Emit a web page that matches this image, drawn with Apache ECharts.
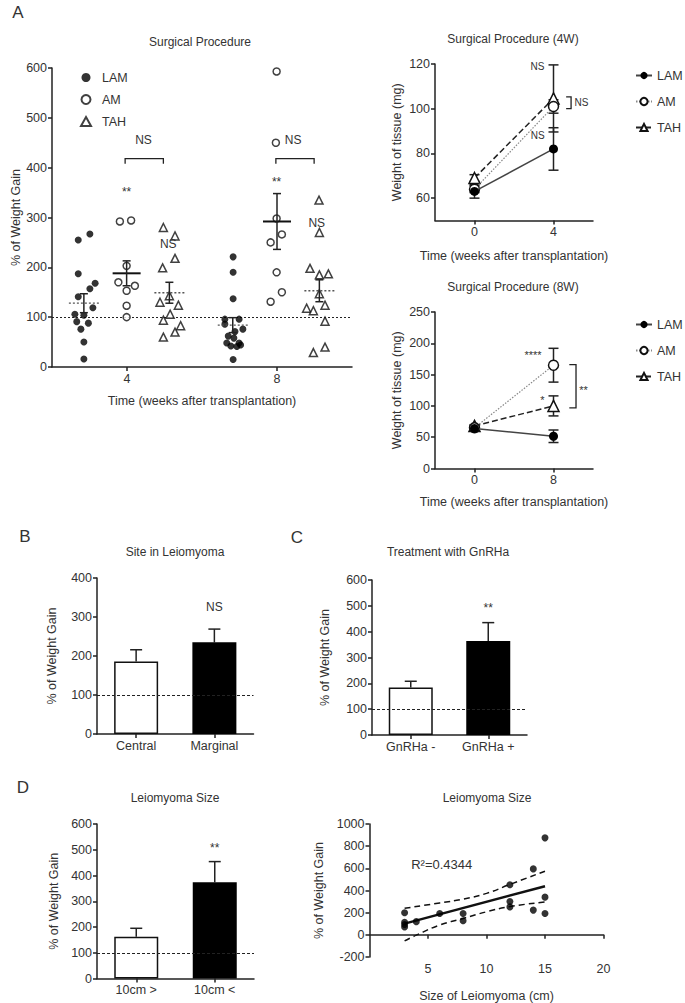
<!DOCTYPE html>
<html><head><meta charset="utf-8">
<script src="https://cdn.jsdelivr.net/npm/echarts@6/dist/echarts.min.js"></script>
<style>html,body{margin:0;padding:0;background:#fff}#c{width:685px;height:1003px}</style>
</head><body><div id="c"></div>
<script>
// ---------------- DATA ----------------
// Panel A: Surgical Procedure (jittered points: [x, % weight gain])
const weekTicks = [4, 8];
const lam4 = [[3.01,267],[2.70,255],[2.70,187],[3.15,168],[3.01,157],[2.70,141],[3.09,119],[2.61,106],[2.85,104],[2.66,91],[2.97,88],[2.77,76],[2.85,50],[2.85,16]];
const am4  = [[3.81,292],[4.11,294],[3.99,203],[3.77,170],[4.21,163],[3.99,153],[3.99,123],[3.99,100]];
const tah4 = [[4.97,280],[5.28,263],[5.28,218],[4.95,199],[4.88,130],[5.13,143],[5.37,124],[5.15,106],[4.97,94],[5.43,83],[5.28,70],[4.97,60]];
const lam8 = [[6.83,221],[6.83,190],[6.83,137],[6.61,96],[6.99,96],[7.09,76],[6.61,86],[6.70,62],[6.88,71],[6.66,48],[6.85,58],[6.99,48],[6.77,42],[6.93,41],[7.03,44],[6.83,15]];
const am8  = [[7.99,593],[7.97,450],[7.99,298],[8.13,266],[7.83,250],[7.99,190],[8.13,150],[7.83,131]];
const tah8 = [[9.12,335],[9.13,270],[8.88,198],[9.13,185],[9.37,187],[9.13,147],[8.79,118],[8.97,113],[9.28,124],[9.28,92],[9.28,40],[8.97,29]];
const lamCenterX = [2.85, 6.82], lamMean = [128, 84],  lamSem = [19, 15];
const amCenterX  = [3.99, 8.00], amMean  = [188, 292], amSem  = [25, 56];
const tahCenterX = [5.13, 9.13], tahMean = [149, 153], tahSem = [21, 22];
const aLabels = [[3.99,352,'**'],[7.99,372,'**'],[5.10,246,'NS'],[9.06,289,'NS'],[4.44,456,'NS'],[8.43,456,'NS']];
const aBrackets = [[[3.95,408],[3.95,418],[4.97,418],[4.97,408]], [[7.97,408],[7.97,418],[8.99,418],[8.99,408]]];

// Panel A right: weight of tissue (mg)
const time4W = [0, 4];
const lam4W = [63, 82],   lam4WErr = [3, 9.5];
const am4W  = [64, 101],  am4WErr  = [1.5, 3];
const tah4W = [69, 104.6],tah4WErr = [1.5, 15];
const labels4W = [[3.19,119,'NS','center'],[3.2,88,'NS','center'],[5.06,102.7,'NS','left']];
const brackets4W = [[[4.64,105.3],[4.89,105.3],[4.89,100],[4.64,100]]];

const time8W = [0, 8];
const lam8W = [64, 51.5], lam8WErr = [3, 10];
const am8W  = [65, 165],  am8WErr  = [2, 27];
const tah8W = [68, 100],  tah8WErr = [2, 16];
const labels8W = [[5.92,182,'****','center'],[6.87,109,'*','center'],[10.6,125,'**','left']];
const brackets8W = [[[9.6,166],[10.28,166],[10.28,97],[9.6,97]]];

// Panel B
const siteCats = ['Central', 'Marginal'];
const siteMean = [186, 235], siteSem = [30, 34];
const siteLabels = [[1, 325, 'NS']];
// Panel C
const gnCats = ['GnRHa -', 'GnRHa +'];
const gnMean = [184, 364], gnSem = [24, 71];
const gnLabels = [[1, 493, '**']];
// Panel D left
const sizeCats = ['10cm >', '10cm <'];
const sizeMean = [162, 374], sizeSem = [33, 80];
const sizeLabels = [[1, 506, '**']];
// Panel D right: size (cm) vs % weight gain
const sizePts = [[3,200],[3,114],[3,93],[3,70],[4,119],[6,192],[8,192],[8,127],[12,452],[12,301],[12,252],[14,595],[14,223],[15,875],[15,340],[15,192]];
const fitLine = [[3,101],[15,439]];
const upperBand = [[3,239],[6,288],[8,322],[10,374],[12,455],[15,574]];
const lowerBand = [[3,-55],[4,-3],[6,88],[8,148],[10,208],[12,255],[15,296]];
const r2Label = [[6.17, 639, 'R\u00b2=0.4344']];

// ---------------- STYLE HELPERS ----------------
const FONT = '"Liberation Sans", Arial, Helvetica, sans-serif';
const TXT = '#333', AX = '#222';

function axis(o) {
  const a = {
    gridIndex: o.g, type: o.type || 'value', name: o.name || '', nameLocation: 'middle', nameGap: o.gap || 30,
    nameTextStyle: {color: TXT, fontSize: 12.5, fontFamily: FONT},
    axisLine: {show: true, onZero: !!o.onZero, lineStyle: {color: AX, width: 1.5}},
    axisTick: {show: true, length: 4, alignWithLabel: true, lineStyle: {color: AX, width: 1.5}},
    axisLabel: {color: TXT, fontSize: 12.5, fontFamily: FONT, margin: 5},
    splitLine: {show: false}
  };
  if (o.data) a.data = o.data; else a.axisLabel.formatter = v => String(v);
  if (o.min !== undefined) a.min = o.min;
  if (o.max !== undefined) a.max = o.max;
  if (o.interval) a.interval = o.interval;
  if (o.custom) { a.axisTick.customValues = o.custom; a.axisLabel.customValues = o.custom; }
  return a;
}

function textSeries(xi, items, size) {
  return {type: 'custom', xAxisIndex: xi, yAxisIndex: xi, silent: true, z: 20, clip: false,
    data: items.map(d => [d[0], d[1]]),
    renderItem: (params, api) => {
      const it = items[params.dataIndex];
      const p = api.coord([api.value(0), api.value(1)]);
      return {type: 'text', x: p[0], y: p[1], style: {text: it[2], fill: TXT, fontSize: size || 12, fontFamily: FONT, align: it[3] || 'center', verticalAlign: 'middle'}};
    }};
}
function polySeries(xi, lines) {
  return {type: 'custom', xAxisIndex: xi, yAxisIndex: xi, silent: true, z: 20, clip: false,
    data: lines.map(l => l[0]),
    renderItem: (params, api) => ({type: 'polyline', shape: {points: lines[params.dataIndex].map(pt => api.coord(pt))},
      style: {stroke: AX, lineWidth: 1.3, fill: null}})};
}
function meanSem(centers, means, sems, solid) {
  return {type: 'custom', xAxisIndex: 0, yAxisIndex: 0, silent: true, z: 15,
    data: centers.map((x, i) => [x, means[i], sems[i]]),
    renderItem: (params, api) => {
      const x = api.value(0), m = api.value(1), s = api.value(2);
      const c = api.coord([x, m]), t = api.coord([x, m + s]), b = api.coord([x, m - s]);
      const hw = solid ? 14 : 15, cw = 4, st = {stroke: AX, lineWidth: 1.5};
      return {type: 'group', children: [
        {type: 'line', shape: {x1: c[0]-hw, y1: c[1], x2: c[0]+hw, y2: c[1]}, style: solid ? {stroke: '#111', lineWidth: 2} : {stroke: '#555', lineWidth: 1.3, lineDash: [2, 2]}},
        {type: 'line', shape: {x1: t[0], y1: t[1], x2: b[0], y2: b[1]}, style: st},
        {type: 'line', shape: {x1: t[0]-cw, y1: t[1], x2: t[0]+cw, y2: t[1]}, style: st},
        {type: 'line', shape: {x1: b[0]-cw, y1: b[1], x2: b[0]+cw, y2: b[1]}, style: st}
      ]};
    }};
}
function errBars(xi, xs, ys, errs, upOnly) {
  return {type: 'custom', xAxisIndex: xi, yAxisIndex: xi, silent: true, z: upOnly ? 1 : 3,
    data: xs.map((x, i) => [x, ys[i], errs[i]]),
    renderItem: (params, api) => {
      const x = api.value(0), m = api.value(1), s = api.value(2);
      const t = api.coord([x, m + s]), b = api.coord([x, upOnly ? m : m - s]);
      const cw = upOnly ? 6 : 5, st = {stroke: AX, lineWidth: 1.5};
      const ch = [
        {type: 'line', shape: {x1: t[0], y1: t[1], x2: b[0], y2: b[1]}, style: st},
        {type: 'line', shape: {x1: t[0]-cw, y1: t[1], x2: t[0]+cw, y2: t[1]}, style: st}];
      if (!upOnly) ch.push({type: 'line', shape: {x1: b[0]-cw, y1: b[1], x2: b[0]+cw, y2: b[1]}, style: st});
      return {type: 'group', children: ch};
    }};
}
const ref100 = (dashed) => ({symbol: 'none', silent: true, label: {show: false}, data: [{yAxis: 100}],
  lineStyle: {color: '#222', width: 1.2, type: dashed ? [3, 2] : [2, 2]}});

const sym = {
  LAM: {symbol: 'circle', itemStyle: {color: '#000'}},
  AM:  {symbol: 'circle', itemStyle: {color: '#fff', borderColor: '#111', borderWidth: 1.5}},
  TAH: {symbol: 'triangle', itemStyle: {color: '#fff', borderColor: '#111', borderWidth: 1.5}}
};
const zOrder = {LAM: 10, AM: 9, TAH: 8};
function scatterA(name, pts, size) {
  return Object.assign({type: 'scatter', name: name + '|a', xAxisIndex: 0, yAxisIndex: 0, symbolSize: size, data: pts, z: 10}, sym[name]);
}
const lineStyles = {
  LAM: {color: '#444', width: 1.5, type: 'solid'},
  AM:  {color: '#888', width: 1.2, type: [1.5, 1.5]},
  TAH: {color: '#222', width: 1.5, type: [6, 3]}
};
function lineW(name, tag, xi, xs, ys, size) {
  return Object.assign({type: 'line', name: name + '|' + tag, xAxisIndex: xi, yAxisIndex: xi, symbolSize: size,
    data: xs.map((x, i) => [x, ys[i]]), lineStyle: lineStyles[name], z: zOrder[name]}, sym[name]);
}
function bars(xi, vals) {
  return {type: 'bar', xAxisIndex: xi, yAxisIndex: xi, barWidth: 44, z: 2,
    data: vals.map((v, i) => ({value: v, itemStyle: i === 0 ? {color: '#fff', borderColor: '#111', borderWidth: 1.5} : {color: '#000'}})),
    markLine: ref100(true)};
}
const legendBase = (names, left, top, w, gap, textPad) => ({
  data: names, left: left, top: top, orient: 'vertical', itemWidth: w, itemHeight: 9, itemGap: gap, selectedMode: false, padding: 0,
  formatter: n => n.split('|')[0], textStyle: {color: TXT, fontSize: 12.5, fontFamily: FONT, padding: [0, 0, 0, textPad || 0]}
});
const txt = (t, x, y, size) => ({type: 'text', x: x, y: y, silent: true,
  style: {text: t, fill: TXT, fontSize: size || 12, fontFamily: FONT, align: 'center', verticalAlign: 'middle'}});

// ---------------- OPTION ----------------
const option = {
  backgroundColor: '#fff',
  animation: false,
  grid: [
    {left: 52, top: 68, width: 300, height: 299},
    {left: 435, top: 64, width: 158, height: 156.5},
    {left: 435, top: 312, width: 158, height: 156.5},
    {left: 97, top: 578, width: 156.5, height: 156},
    {left: 372, top: 580, width: 155, height: 155},
    {left: 97, top: 824, width: 157, height: 154.5},
    {left: 369.5, top: 824, width: 234, height: 154.5}
  ],
  xAxis: [
    axis({g: 0, min: 2, max: 10, custom: weekTicks, name: 'Time (weeks after transplantation)', gap: 27}),
    axis({g: 1, min: -2, max: 6, custom: time4W, name: 'Time (weeks after transplantation)', gap: 29}),
    axis({g: 2, min: -4, max: 12, custom: time8W, name: 'Time (weeks after transplantation)', gap: 27}),
    axis({g: 3, type: 'category', data: siteCats}),
    axis({g: 4, type: 'category', data: gnCats}),
    axis({g: 5, type: 'category', data: sizeCats}),
    axis({g: 6, min: 0, max: 20, interval: 5, custom: [5, 10, 15, 20], onZero: true, name: 'Size of Leiomyoma (cm)', gap: 32})
  ],
  yAxis: [
    axis({g: 0, min: 0, max: 600, interval: 100, name: '% of Weight Gain', gap: 30}),
    axis({g: 1, min: 50, max: 120, custom: [60, 80, 100, 120], name: 'Weight of tissue (mg)', gap: 32}),
    axis({g: 2, min: 0, max: 250, interval: 50, name: 'Weight of tissue (mg)', gap: 32}),
    axis({g: 3, min: 0, max: 400, interval: 100, name: '% of Weight Gain', gap: 39}),
    axis({g: 4, min: 0, max: 600, interval: 100, name: '% of Weight Gain', gap: 41}),
    axis({g: 5, min: 0, max: 600, interval: 100, name: '% of Weight Gain', gap: 37}),
    axis({g: 6, min: -200, max: 1000, interval: 200, name: '% of Weight Gain', gap: 44})
  ],
  legend: [
    legendBase(['LAM|a', 'AM|a', 'TAH|a'], 80, 71, 10, 9, 6),
    legendBase(['LAM|4', 'AM|4', 'TAH|4'], 635, 69, 16, 13, 0),
    legendBase(['LAM|8', 'AM|8', 'TAH|8'], 635, 318, 16, 13, 0)
  ],
  graphic: [
    txt('A', 18, 12, 17), txt('B', 25, 536, 17), txt('C', 297, 537, 17), txt('D', 23, 787, 17),
    txt('Surgical Procedure', 200, 42), txt('Surgical Procedure (4W)', 513, 39), txt('Surgical Procedure (8W)', 513, 287),
    txt('Site in Leiomyoma', 175, 552), txt('Treatment with GnRHa', 448, 552),
    txt('Leiomyoma Size', 175, 798), txt('Leiomyoma Size', 487, 798)
  ],
  series: [
    // Panel A
    Object.assign(scatterA('LAM', lam4.concat(lam8), 7), {markLine: ref100(false)}),
    scatterA('AM', am4.concat(am8), 7),
    scatterA('TAH', tah4.concat(tah8), 8),
    meanSem(lamCenterX, lamMean, lamSem, false),
    meanSem(amCenterX, amMean, amSem, true),
    meanSem(tahCenterX, tahMean, tahSem, false),
    textSeries(0, aLabels, 12),
    polySeries(0, aBrackets),
    // 4W
    errBars(1, time4W, lam4W, lam4WErr), errBars(1, time4W, am4W, am4WErr), errBars(1, time4W, tah4W, tah4WErr),
    lineW('LAM', '4', 1, time4W, lam4W, 9), lineW('AM', '4', 1, time4W, am4W, 10), lineW('TAH', '4', 1, time4W, tah4W, 11),
    textSeries(1, labels4W, 10), polySeries(1, brackets4W),
    // 8W
    errBars(2, time8W, lam8W, lam8WErr), errBars(2, time8W, am8W, am8WErr), errBars(2, time8W, tah8W, tah8WErr),
    lineW('LAM', '8', 2, time8W, lam8W, 9), lineW('AM', '8', 2, time8W, am8W, 10), lineW('TAH', '8', 2, time8W, tah8W, 11),
    textSeries(2, labels8W, 11), polySeries(2, brackets8W),
    // B
    bars(3, siteMean), errBars(3, [0, 1], siteMean, siteSem, true), textSeries(3, siteLabels, 12),
    // C
    bars(4, gnMean), errBars(4, [0, 1], gnMean, gnSem, true), textSeries(4, gnLabels, 12),
    // D left
    bars(5, sizeMean), errBars(5, [0, 1], sizeMean, sizeSem, true), textSeries(5, sizeLabels, 12),
    // D right
    {type: 'line', xAxisIndex: 6, yAxisIndex: 6, data: upperBand, smooth: true, symbol: 'none', lineStyle: {color: '#111', width: 1.5, type: [6, 4]}},
    {type: 'line', xAxisIndex: 6, yAxisIndex: 6, data: lowerBand, smooth: true, symbol: 'none', lineStyle: {color: '#111', width: 1.5, type: [6, 4]}},
    {type: 'line', xAxisIndex: 6, yAxisIndex: 6, data: fitLine, symbol: 'none', lineStyle: {color: '#111', width: 2.5}},
    {type: 'scatter', xAxisIndex: 6, yAxisIndex: 6, data: sizePts, symbol: 'circle', symbolSize: 7, itemStyle: {color: '#000'}, z: 10},
    textSeries(6, r2Label, 13)
  ]
};
const chart = echarts.init(document.getElementById('c'), null, {renderer: 'svg'});
chart.setOption(option);
</script></body></html>
